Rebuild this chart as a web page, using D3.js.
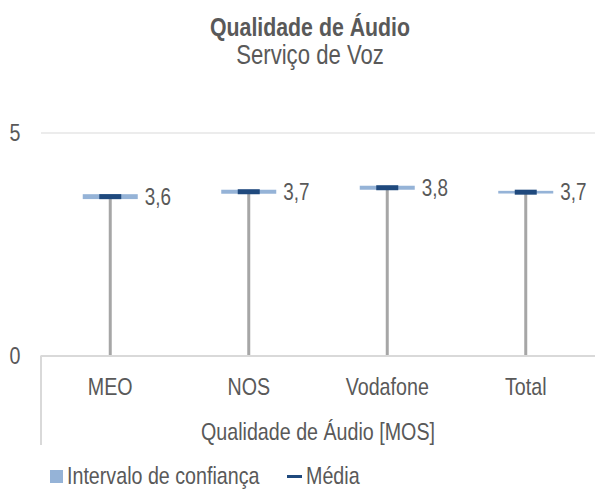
<!DOCTYPE html>
<html lang="pt">
<head>
  <meta charset="utf-8">
  <title>Qualidade de Áudio</title>
  <script src="https://cdn.jsdelivr.net/npm/d3@7"></script>
  <style>
    body { margin: 0; background: #fff; }
    text { font-family: "Liberation Sans Narrow", "Arial Narrow", "Liberation Sans", sans-serif; fill: #595959; }
  </style>
</head>
<body>
<script>
  // chart data
  var categories = ["MEO", "NOS", "Vodafone", "Total"];
  var means = [3.57, 3.68, 3.77, 3.67];
  var ciLow = [3.515, 3.635, 3.725, 3.64];
  var ciHigh = [3.625, 3.725, 3.815, 3.70];
  var yTicks = [0, 5];

  var width = 595, height = 490;
  var plotLeft = 41, plotRight = 595, plotTop = 133, plotBottom = 355.5;
  var narrow = 0.82; // squeeze to look like Arial Narrow

  var svg = d3.select("body").append("svg")
    .attr("width", width)
    .attr("height", height);

  var x = d3.scaleBand().domain(categories).range([plotLeft, plotRight]);
  var y = d3.scaleLinear().domain([0, 5]).range([plotBottom, plotTop]);

  // text helper: narrow text at a point
  function label(g, tx, ty, str, size, anchor) {
    return g.append("text")
      .attr("transform", "translate(" + tx + "," + ty + ") scale(" + narrow + ",1)")
      .attr("text-anchor", anchor || "start")
      .style("font-size", size + "px")
      .text(str);
  }

  // titles
  label(svg, 310, 36, "Qualidade de Áudio", 26, "middle").style("font-weight", "bold");
  label(svg, 310, 64, "Serviço de Voz", 27, "middle");

  // gridline at 5 and y labels
  svg.append("line")
    .attr("x1", plotLeft).attr("x2", plotRight)
    .attr("y1", y(5)).attr("y2", y(5))
    .attr("stroke", "#d9d9d9").attr("stroke-width", 1);

  yTicks.forEach(function(d) {
    label(svg, 15, y(d), d, 24, "middle").attr("dy", "0.35em");
  });

  // stems
  svg.selectAll(".stem").data(categories).enter().append("line")
    .attr("x1", function(d) { return x(d) + x.bandwidth() / 2; })
    .attr("x2", function(d) { return x(d) + x.bandwidth() / 2; })
    .attr("y1", y(0))
    .attr("y2", function(d, i) { return y(means[i]); })
    .attr("stroke", "#a6a6a6").attr("stroke-width", 3);

  // baseline and category axis frame
  svg.append("line")
    .attr("x1", plotLeft).attr("x2", plotRight)
    .attr("y1", plotBottom + 0.5).attr("y2", plotBottom + 0.5)
    .attr("stroke", "#d9d9d9").attr("stroke-width", 2);
  svg.append("line")
    .attr("x1", plotLeft).attr("x2", plotLeft)
    .attr("y1", plotBottom).attr("y2", 445)
    .attr("stroke", "#d9d9d9").attr("stroke-width", 2);

  // confidence interval bars
  var ciW = 55;
  svg.selectAll(".ci").data(categories).enter().append("rect")
    .attr("x", function(d) { return x(d) + x.bandwidth() / 2 - ciW / 2; })
    .attr("y", function(d, i) { return y(ciHigh[i]); })
    .attr("width", ciW)
    .attr("height", function(d, i) { return y(ciLow[i]) - y(ciHigh[i]); })
    .attr("fill", "#95b3d7");

  // mean markers
  var mW = 22, mH = 5;
  svg.selectAll(".mean").data(categories).enter().append("rect")
    .attr("x", function(d) { return x(d) + x.bandwidth() / 2 - mW / 2; })
    .attr("y", function(d, i) { return y(means[i]) - mH / 2; })
    .attr("width", mW).attr("height", mH)
    .attr("fill", "#1f497d");

  // value labels
  categories.forEach(function(d, i) {
    label(svg, x(d) + x.bandwidth() / 2 + ciW / 2 + 7, y(means[i]),
      d3.format(".1f")(means[i]).replace(".", ","), 23).attr("dy", "0.35em");
  });

  // category labels
  categories.forEach(function(d) {
    label(svg, x(d) + x.bandwidth() / 2, 395, d, 24, "middle");
  });

  label(svg, 318, 440, "Qualidade de Áudio [MOS]", 24, "middle");

  // legend
  svg.append("rect").attr("x", 50).attr("y", 470).attr("width", 13).attr("height", 13)
    .attr("fill", "#95b3d7");
  label(svg, 67, 484, "Intervalo de confiança", 24);
  svg.append("rect").attr("x", 287).attr("y", 475).attr("width", 15).attr("height", 3)
    .attr("fill", "#1f497d");
  label(svg, 306, 484, "Média", 24);
</script>
</body>
</html>
